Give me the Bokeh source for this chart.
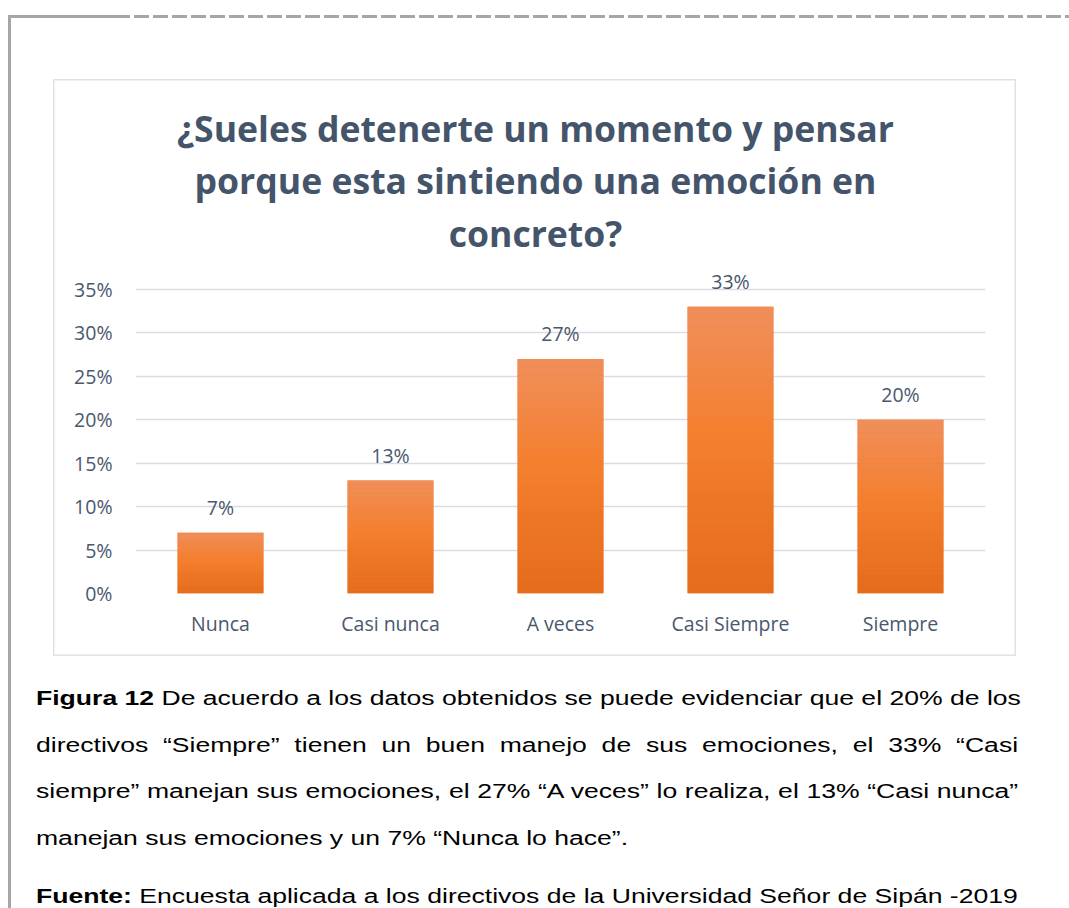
from bokeh.plotting import figure
from bokeh.models import (ColumnDataSource, FactorRange, Range1d, FixedTicker,
                          NumeralTickFormatter, LabelSet, Label, Div)
from bokeh.layouts import column, row
from bokeh.embed import file_html
from bokeh.resources import INLINE
from bokeh.core.properties import value

# ---------------- data ----------------
categories = ["Nunca", "Casi nunca", "A veces", "Casi Siempre", "Siempre"]
percentages = [0.07, 0.13, 0.27, 0.33, 0.20]
value_labels = ["7%", "13%", "27%", "33%", "20%"]
y_ticks = [0.0, 0.05, 0.10, 0.15, 0.20, 0.25, 0.30, 0.35]
title_lines = ["¿Sueles detenerte un momento y pensar",
               "porque esta sintiendo una emoción en",
               "concreto?"]
paragraph_lines = [
    "<b>Figura 12</b> De acuerdo a los datos obtenidos se puede evidenciar que el 20% de los",
    "directivos “Siempre” tienen un buen manejo de sus emociones, el 33% “Casi",
    "siempre” manejan sus emociones, el 27% “A veces” lo realiza, el 13% “Casi nunca”",
    "manejan sus emociones y un 7% “Nunca lo hace”.",
]
source_line = "<b>Fuente:</b> Encuesta aplicada a los directivos de la Universidad Señor de Sipán -2019"

# ---------------- style / layout constants ----------------
TITLE_COLOR = "#44546a"
LABEL_COLOR = "#4a586e"
GRID_COLOR = "#d9dde3"
DOC_LINE = "#a6a6a6"
FONT = "Open Sans"

W, H = 963, 577          # chart box
BL, BR, BT, BB = 82, 31, 0, 63
FW, FH = W - BL - BR, H - BT - BB
PX_PER_UNIT = 304 / 0.35
Y_MAX = FH / PX_PER_UNIT
BAND = FW / len(categories)

p = figure(x_range=FactorRange(*categories), y_range=Range1d(0, Y_MAX),
           width=W, height=H, output_backend="svg", toolbar_location=None,
           min_border_left=BL, min_border_right=BR, min_border_top=BT,
           min_border_bottom=BB)
p.border_fill_color = None
p.background_fill_color = None
p.outline_line_color = None
p.styles = {"box-shadow": "inset 0 0 0 1.5px #dfe3e8"}

# bars: solid base + gradient slices of each bar's own value
BAR_W = 0.505
p.vbar(x=categories, top=percentages, width=BAR_W, fill_color="#f07c33",
       line_color=None)

N = 28
stops = [(0.0, (229, 107, 27)), (0.55, (244, 127, 46)), (1.0, (240, 143, 92))]


def grad(t):
    for (t0, c0), (t1, c1) in zip(stops[:-1], stops[1:]):
        if t <= t1:
            f = (t - t0) / (t1 - t0)
            r, g, b = (round(a + (bb - a) * f) for a, bb in zip(c0, c1))
            return "#%02x%02x%02x" % (r, g, b)
    return "#%02x%02x%02x" % stops[-1][1]


xs, bottoms, tops, colors = [], [], [], []
for c, v in zip(categories, percentages):
    for k in range(N):
        xs.append(c)
        bottoms.append(v * k / N)
        tops.append(v * (k + 1) / N)
        colors.append(grad((k + 0.5) / N))
seg_src = ColumnDataSource(dict(x=xs, bottom=bottoms, top=tops, color=colors))
p.vbar(x="x", bottom="bottom", top="top", width=BAR_W, source=seg_src,
       fill_color="color", line_color=None)

# data labels
lab_src = ColumnDataSource(dict(x=categories, y=percentages, label=value_labels))
p.add_layout(LabelSet(x="x", y="y", text="label", source=lab_src, y_offset=18,
                      text_align="center", text_baseline="alphabetic",
                      text_font=value(FONT), text_font_size="19.5px",
                      text_color=LABEL_COLOR))

# title (three centred lines)
title_cx = (482 - BL) / BAND
for i, line in enumerate(title_lines):
    base_px = 48 + 52.5 * i                    # px from chart-box top
    y = (H - BB - base_px) / PX_PER_UNIT
    p.add_layout(Label(x=title_cx, y=y, text=line, text_align="center",
                       text_baseline="alphabetic", text_font=FONT,
                       text_font_style="bold", text_font_size="35.6px",
                       text_color=TITLE_COLOR))

# axes
p.yaxis.ticker = FixedTicker(ticks=y_ticks)
p.yaxis.formatter = NumeralTickFormatter(format="0%")
for ax in (p.xaxis, p.yaxis):
    ax.axis_line_color = None
    ax.major_tick_line_color = None
    ax.minor_tick_line_color = None
    ax.major_tick_out = 0
    ax.major_tick_in = 0
    ax.major_label_text_font = FONT
    ax.major_label_text_font_size = "19.5px"
    ax.major_label_text_color = LABEL_COLOR
p.yaxis.major_label_standoff = 23
p.xaxis.major_label_standoff = 16
p.xgrid.grid_line_color = None
p.ygrid.grid_line_color = GRID_COLOR
p.ygrid.grid_line_width = 1.3

# ---------------- document around the chart ----------------
PAGE_W = 1069
top_div = Div(width=PAGE_W, height=79, margin=0, text=(
    f'<div style="position:relative;width:{PAGE_W}px;height:79px;overflow:hidden">'
    f'<div style="position:absolute;left:8px;top:15px;width:107px;height:3px;background:{DOC_LINE}"></div>'
    '<div style="position:absolute;left:115px;top:15px;width:954px;height:3px;'
    f'background:repeating-linear-gradient(90deg,{DOC_LINE} 0 15px,transparent 15px 19px)"></div>'
    f'<div style="position:absolute;left:8px;top:15px;width:3px;height:64px;background:{DOC_LINE}"></div>'
    '</div>'))

side_div = Div(width=53, height=H, margin=0, text=(
    f'<div style="position:relative;width:53px;height:{H}px">'
    f'<div style="position:absolute;left:8px;top:0;width:3px;height:{H}px;background:{DOC_LINE}"></div>'
    '</div>'))

SCALE = 1.328
LINE_W = 982 / SCALE
tops_px = [30.6, 77.6, 123.6, 170.6]
wraps = ["nowrap", "normal", "nowrap", "nowrap"]
parts = [f'<div style="position:absolute;left:8px;top:0;width:3px;height:252px;background:{DOC_LINE}"></div>']
for i, (t, txt) in enumerate(zip(tops_px, paragraph_lines)):
    just = "justify" if i < len(paragraph_lines) - 1 else "left"
    parts.append(
        f'<div style="position:absolute;left:36px;top:{t}px;width:{LINE_W:.1f}px;line-height:23px;'
        f'white-space:{wraps[i]};text-align:{just};text-align-last:{just};'
        f'transform:scaleX({SCALE});transform-origin:0 0">{txt}</div>')
parts.append(
    f'<div style="position:absolute;left:36px;top:228.6px;width:{LINE_W:.1f}px;line-height:23px;white-space:nowrap;'
    f'transform:scaleX({SCALE});transform-origin:0 0">{source_line}</div>')
text_div = Div(width=PAGE_W, height=252, margin=0, text=(
    f'<div style="position:relative;width:{PAGE_W}px;height:252px;font-family:\'Liberation Sans\',Arial,sans-serif;'
    'font-size:20px;color:#000">' + "".join(parts) + '</div>'))

layout = column(top_div, row(side_div, p, spacing=0), text_div, spacing=0)

with open("out.html", "w", encoding="utf-8") as f:
    f.write(file_html(layout, INLINE))
